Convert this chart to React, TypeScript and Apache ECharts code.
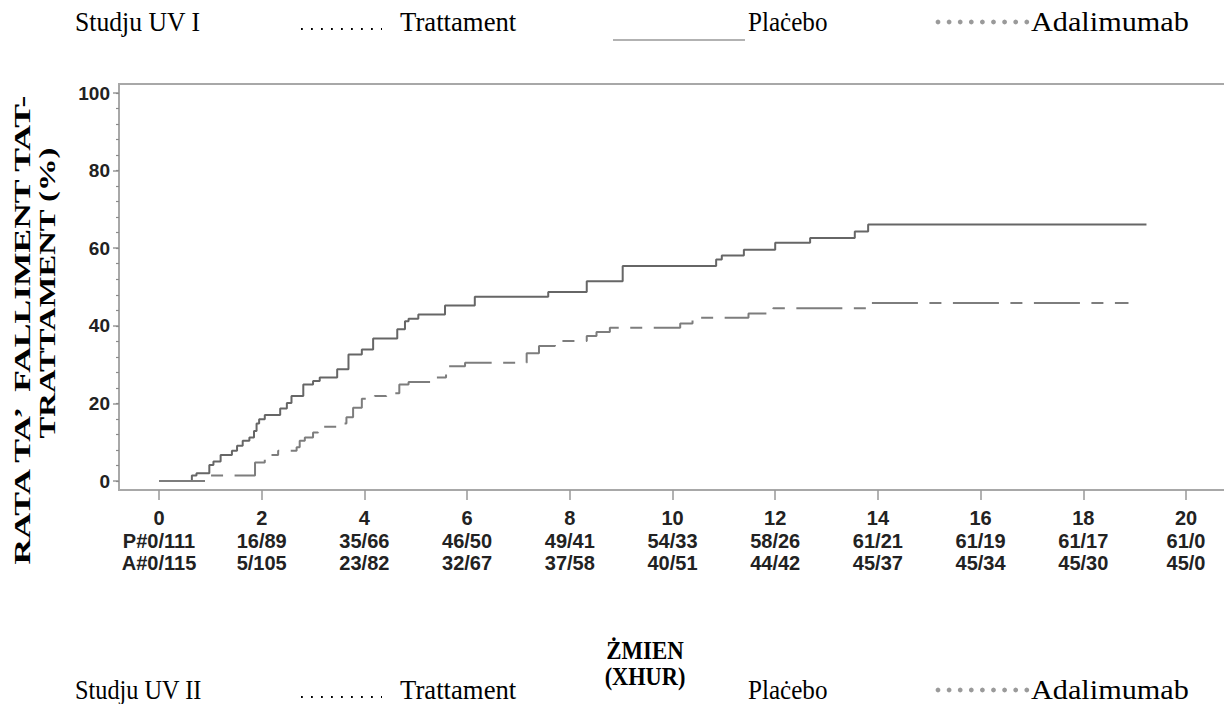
import React, { useEffect, useRef } from "react";
import * as echarts from "echarts";

const X_TICKS = [0, 2, 4, 6, 8, 10, 12, 14, 16, 18, 20];
const P_RISK = ["P#0/111", "16/89", "35/66", "46/50", "49/41", "54/33", "58/26", "61/21", "61/19", "61/17", "61/0"];
const A_RISK = ["A#0/115", "5/105", "23/82", "32/67", "37/58", "40/51", "44/42", "45/37", "45/34", "45/30", "45/0"];

const PLACEBO_T = [0, 0.64, 0.73, 0.98, 1.06, 1.2, 1.42, 1.52, 1.63, 1.76, 1.85, 1.9, 1.95, 2.06, 2.36, 2.49, 2.58, 2.81, 3.0, 3.13, 3.47, 3.69, 3.95, 4.17, 4.64, 4.79, 4.86, 5.05, 5.57, 6.15, 7.58, 8.33, 9.03, 10.85, 10.96, 11.39, 12.0, 12.68, 13.55, 13.81, 19.23];
const PLACEBO_V = [0, 1.4, 2.0, 4.1, 5.0, 6.7, 7.8, 9.1, 10.4, 11.2, 12.9, 14.8, 15.9, 17.0, 18.7, 20.1, 21.9, 24.9, 25.8, 26.7, 28.8, 32.6, 33.9, 36.7, 39.1, 41.2, 41.8, 42.9, 45.2, 47.5, 48.7, 51.5, 55.4, 57.1, 58.1, 59.6, 61.4, 62.6, 64.3, 66.1, 66.1];

const ADA_T = [0, 0.98, 1.87, 2.06, 2.32, 2.68, 2.74, 2.84, 3.0, 3.1, 3.49, 3.65, 3.78, 3.95, 4.2, 4.43, 4.68, 4.86, 5.41, 5.59, 5.96, 7.16, 7.4, 7.71, 8.33, 8.52, 8.78, 10.15, 10.39, 11.48, 11.96, 13.85, 18.88];
const ADA_V = [0, 1.4, 4.8, 6.7, 7.8, 8.7, 10.4, 11.2, 12.5, 14.0, 14.8, 16.4, 18.9, 21.2, 21.9, 22.6, 24.9, 25.5, 26.7, 29.6, 30.5, 32.9, 34.8, 36.1, 37.4, 38.4, 39.5, 40.6, 42.1, 43.2, 44.5, 45.9, 45.9];

const Y_TITLE_1 = "RATA TA’  FALLIMENT TAT-";
const Y_TITLE_2 = "TRATTAMENT (%)";
const X_TITLE_1 = "ŻMIEN";
const X_TITLE_2 = "(XHUR)";
const STUDY_1 = "Studju UV I";
const STUDY_2 = "Studju UV II";
const LEG_TREAT = "Trattament";
const LEG_PLACEBO = "Plaċebo";
const LEG_ADA = "Adalimumab";

const SERIF = "'Liberation Serif', 'Times New Roman', serif";
const SANS = "'Liberation Sans', Arial, Helvetica, sans-serif";

function txt(text: string, x: number, y: number, opts: any = {}) {
  return {
    type: "text",
    x,
    y,
    rotation: opts.rotation || 0,
    scaleX: opts.scaleX || 1,
    scaleY: opts.scaleY || 1,
    style: {
      text,
      fontFamily: SERIF,
      fontSize: opts.fontSize || 27,
      fontWeight: opts.fontWeight || "normal",
      fill: "#000",
      align: opts.align || "left",
      textAlign: opts.align || "left",
      verticalAlign: "middle",
      textVerticalAlign: "middle",
    },
  };
}

function legendRow(y: number, study: string, studyScale: number, showPlaceboLine: boolean) {
  const els: any[] = [
    txt(study, 75, y, { scaleX: studyScale }),
    {
      type: "line",
      shape: { x1: 301, y1: y + 7, x2: 382, y2: y + 7 },
      style: { stroke: "#000", lineWidth: 1.8, lineDash: [1.8, 8.2], lineCap: "butt" },
    },
    txt(LEG_TREAT, 400, y, { scaleX: 0.99 }),
    txt(LEG_PLACEBO, 748, y, { scaleX: 0.93 }),
    txt(LEG_ADA, 1031, y, { scaleX: 1.12 }),
  ];
  for (let i = 0; i < 9; i++) {
    els.push({
      type: "circle",
      shape: { cx: 938 + i * 11.1, cy: y, r: 2.4 },
      style: { fill: "#9a9a9a" },
    });
  }
  if (showPlaceboLine) {
    els.push({
      type: "line",
      shape: { x1: 613, y1: y + 18, x2: 745, y2: y + 18 },
      style: { stroke: "#999", lineWidth: 1.5 },
    });
  }
  return els;
}

export default function App() {
  const ref = useRef<HTMLDivElement>(null);
  useEffect(() => {
    if (!ref.current) return;
    const chart = echarts.init(ref.current, null, { renderer: "svg" });
    const placebo = PLACEBO_T.map((t, i) => [t, PLACEBO_V[i]]);
    const ada = ADA_T.map((t, i) => [t, ADA_V[i]]);
    const frame = "#a8a8a8";
    chart.setOption({
      animation: false,
      backgroundColor: "#fff",
      grid: { left: 119, right: 0, top: 93, bottom: 223 },
      xAxis: {
        type: "value",
        min: -0.779,
        max: 20.74,
        offset: 9,
        axisLine: { show: false, onZero: false },
        splitLine: { show: false },
        axisTick: { show: true, length: 10, customValues: X_TICKS, lineStyle: { color: "#999", width: 1.5 } },
        axisLabel: {
          customValues: X_TICKS,
          margin: 17,
          fontFamily: SANS,
          fontWeight: "bold",
          fontSize: 20,
          lineHeight: 22.5,
          color: "#222",
          formatter: (v: number) => {
            const i = X_TICKS.indexOf(Math.round(v));
            return i < 0 ? "" : `${X_TICKS[i]}\n${P_RISK[i]}\n${A_RISK[i]}`;
          },
        },
      },
      yAxis: [
        {
          type: "value",
          min: 0,
          max: 100,
          interval: 20,
          position: "left",
          axisLine: { show: false, onZero: false },
          splitLine: { show: false },
          axisTick: { show: true, length: 6, lineStyle: { color: "#999", width: 1.5 } },
          axisLabel: {
            margin: 9,
            fontFamily: SANS,
            fontWeight: "bold",
            fontSize: 19,
            color: "#222",
          },
        },
        {
          type: "value",
          min: 0,
          max: 100,
          interval: 4,
          position: "left",
          offset: 0,
          axisLine: { show: false, onZero: false },
          splitLine: { show: false },
          axisTick: { show: true, length: 3, lineStyle: { color: "#8a8a8a", width: 1.2 } },
          axisLabel: { show: false },
        },
      ],
      series: [
        {
          name: "Plaċebo",
          type: "line",
          step: "end",
          data: placebo,
          symbol: "none",
          lineStyle: { color: "#666", width: 2 },
        },
        {
          name: "Adalimumab",
          type: "line",
          step: "end",
          data: ada,
          symbol: "none",
          lineStyle: { color: "#7d7d7d", width: 2, type: [46, 11.5, 12, 11.5] },
        },
      ],
      graphic: [
        { type: "line", shape: { x1: 119, y1: 84, x2: 119, y2: 490 }, style: { stroke: frame, lineWidth: 2 } },
        { type: "line", shape: { x1: 118, y1: 84, x2: 1224, y2: 84 }, style: { stroke: frame, lineWidth: 2 } },
        { type: "line", shape: { x1: 118, y1: 490, x2: 1224, y2: 490 }, style: { stroke: frame, lineWidth: 2 } },
        txt(Y_TITLE_1, 22, 330, { rotation: Math.PI / 2, fontWeight: "bold", fontSize: 24, align: "center", scaleX: 1.48 }),
        txt(Y_TITLE_2, 47, 293, { rotation: Math.PI / 2, fontWeight: "bold", fontSize: 24, align: "center", scaleX: 1.36 }),
        txt(X_TITLE_1, 645, 650, { fontWeight: "bold", fontSize: 26, align: "center", scaleX: 0.88 }),
        txt(X_TITLE_2, 645, 676, { fontWeight: "bold", fontSize: 26, align: "center", scaleX: 0.86 }),
        ...legendRow(22, STUDY_1, 0.95, true),
        ...legendRow(690, STUDY_2, 0.9, false),
      ],
    });
    return () => chart.dispose();
  }, []);
  return (
    <div
      ref={ref}
      style={{ position: "fixed", left: 0, top: 0, width: 1224, height: 704, background: "#fff" }}
    />
  );
}
